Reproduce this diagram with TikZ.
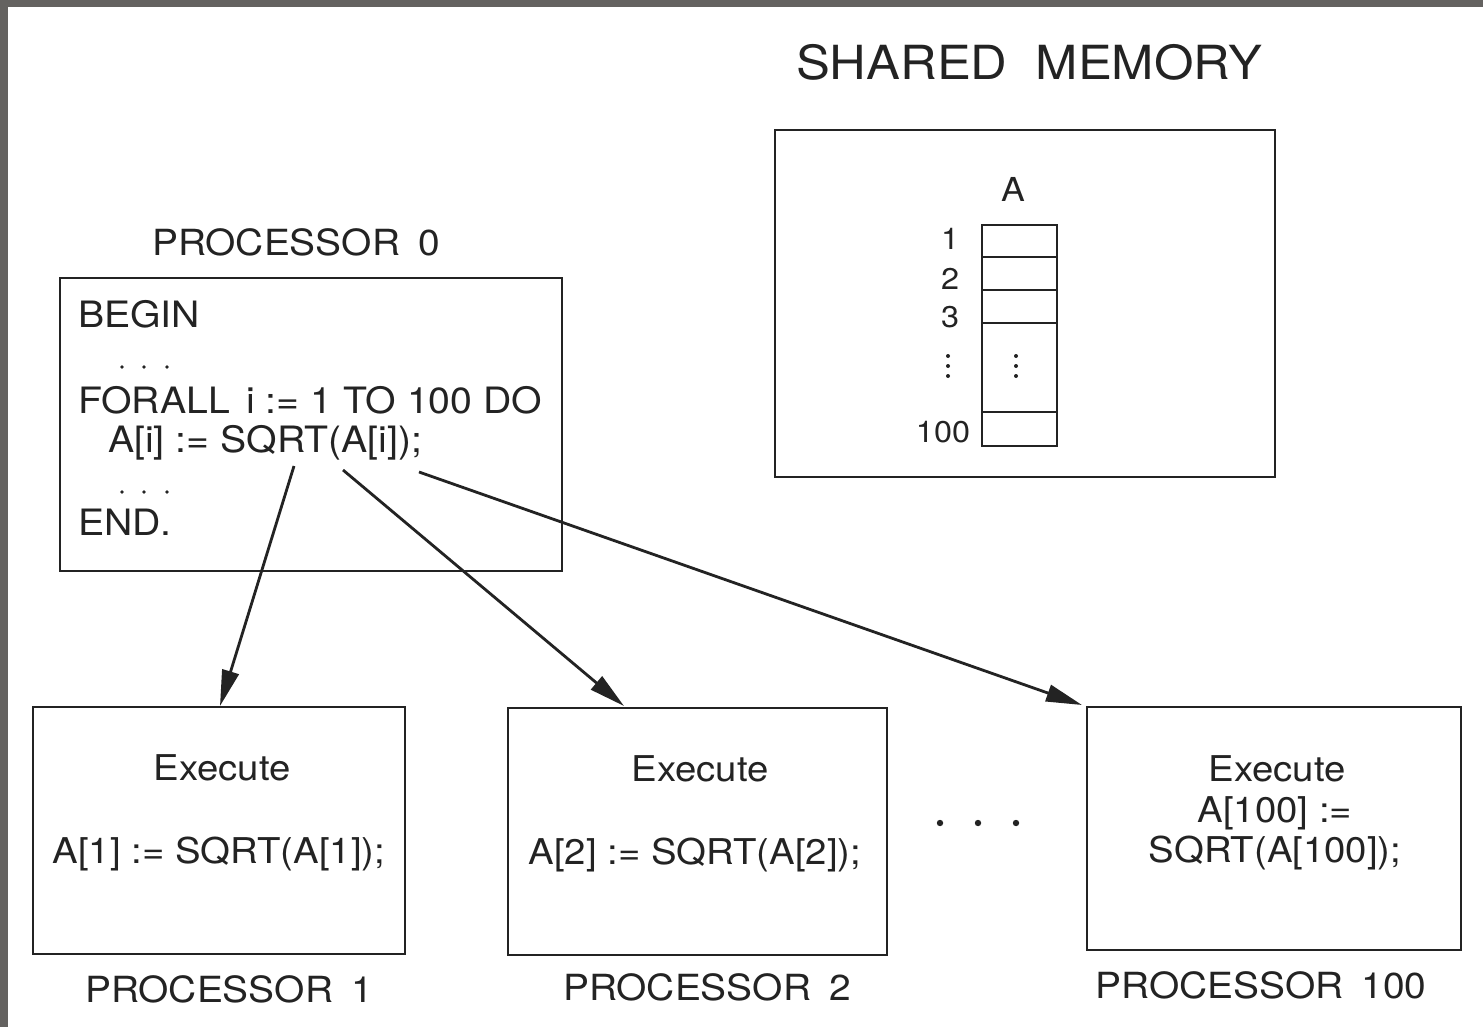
\documentclass[tikz,border=0pt]{standalone}
\usepackage{fontspec}
\setmainfont[FakeStretch=1.08]{TeX Gyre Heros}
\usetikzlibrary{arrows.meta}
\definecolor{frame}{RGB}{100,98,96}
\definecolor{ink}{RGB}{35,35,35}
\begin{document}
\begin{tikzpicture}[x=1pt,y=-1pt,
  box/.style={draw=ink,line width=2.7pt,inner sep=0pt,fill=none},
  lbl/.style={anchor=base,inner sep=0pt,text=ink},
  code/.style={anchor=base west,inner sep=0pt,text=ink,font=\fontsize{36.3}{41}\selectfont},
  big/.style={font=\fontsize{47}{50}\selectfont},
  proclbl/.style={font=\fontsize{36}{40}\selectfont},
  inbox/.style={font=\fontsize{35.5}{40}\selectfont},
  idx/.style={font=\fontsize{30}{34}\selectfont},
  arr/.style={draw=ink,line width=2.8pt,-{Triangle[length=36pt,width=17pt]}},
  dot/.style={fill=ink,draw=none}]
\useasboundingbox (0,0) rectangle (1483,1027);
\fill[white] (0,0) rectangle (1483,1027);
\fill[frame] (0,0) rectangle (1483,7);
\fill[frame] (0,0) rectangle (8,1027);

% shared memory
\node[lbl,big] (smt) at (1029,80) {SHARED\hspace{0.6em}MEMORY};
\node[box,minimum width=500pt,minimum height=347pt] (sm) at (1025,303.5) {};
\node[lbl,font=\fontsize{33}{36}\selectfont] (at) at (1013,202) {A};
\node[box,line width=2.3pt,minimum width=75pt,minimum height=221pt] (arrA) at (1019.5,335.5) {};
\foreach \yy in {257,290,323,412}
  \draw[ink,line width=2.3pt] (982,\yy) -- (1057,\yy);
\node[lbl,idx] (i1) at (950,250) {1};
\node[lbl,idx] (i2) at (950,289) {2};
\node[lbl,idx] (i3) at (950,327) {3};
\node[lbl,idx] (i100) at (943,442) {100};
\foreach \yy in {356,366,376} {
  \fill[dot] (948,\yy) circle (2);
  \fill[dot] (1016,\yy) circle (2);
}

% processor 0
\node[lbl,proclbl] (p0t) at (296,255) {PROCESSOR\hspace{0.5em}0};
\node[box,minimum width=502pt,minimum height=293pt] (p0) at (311,424.5) {};
\node[code] (c1) at (78,327) {BEGIN};
\node[code] (c3) at (78,413) {FORALL\hspace{0.45em}i := 1 TO 100 DO};
\node[code] (c4) at (108,452) {A[i] := SQRT(A[i]);};
\node[code] (c6) at (78,535) {END.};
\foreach \xx in {122,144,167} {
  \fill[dot] (\xx,367) circle (1.8);
  \fill[dot] (\xx,492) circle (1.8);
}

% worker processors
\node[box,minimum width=372pt,minimum height=247pt] (p1) at (219,830.5) {};
\node[lbl,inbox] (p1a) at (222,780) {Execute};
\node[lbl,inbox] (p1b) at (219,863) {A[1] := SQRT(A[1]);};
\node[lbl,proclbl] (p1t) at (229,1002) {PROCESSOR\hspace{0.5em}1};

\node[box,minimum width=379pt,minimum height=247pt] (p2) at (697.5,831.5) {};
\node[lbl,inbox] (p2a) at (700,781) {Execute};
\node[lbl,inbox] (p2b) at (695,864) {A[2] := SQRT(A[2]);};
\node[lbl,proclbl] (p2t) at (707,1000) {PROCESSOR\hspace{0.5em}2};

\node[box,minimum width=374pt,minimum height=243pt] (p100) at (1274,828.5) {};
\node[lbl,inbox] (pka) at (1277,781) {Execute};
\node[lbl,inbox] (pkb) at (1275,822) {A[100] :=};
\node[lbl,inbox] (pkc) at (1275,862) {SQRT(A[100]);};
\node[lbl,proclbl] (pkt) at (1261,998) {PROCESSOR\hspace{0.5em}100};

\foreach \xx in {940,978,1016}
  \fill[dot] (\xx,823) circle (3.2);

% connectors
\coordinate (s1) at (294,466);
\coordinate (s2) at (343,470);
\coordinate (s3) at (419,472);
\coordinate (t1) at (220,706);
\coordinate (t2) at (624,706);
\coordinate (t3) at (1082,705);
\draw[arr] (s1) -- (t1);
\draw[arr] (s2) -- (t2);
\draw[arr] (s3) -- (t3);
\end{tikzpicture}
\end{document}
